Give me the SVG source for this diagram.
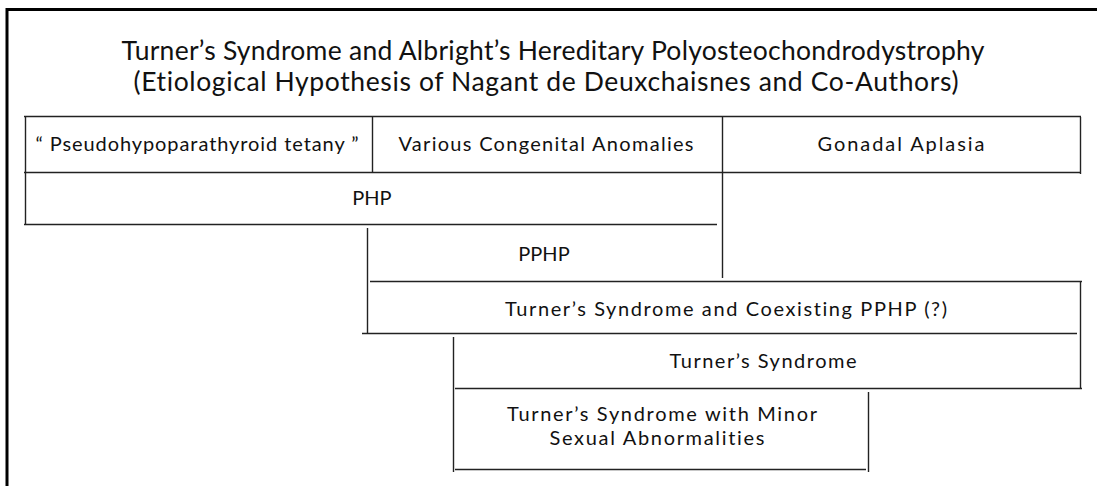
<svg xmlns="http://www.w3.org/2000/svg" width="1097" height="486" viewBox="0 0 1097 486">
  <style>
    text { font-family: Lato, "Open Sans", "Liberation Sans", sans-serif; fill: #111; font-variant-ligatures: none; }
    .title { font-size: 26.5px; }
    .cell { font-size: 20px; }
    .ln { stroke: #222; stroke-width: 1.4; fill: none; }
    .frame { stroke: #000; stroke-width: 3; fill: none; }
  </style>
  <rect x="0" y="0" width="1097" height="486" fill="#fff"/>

  <g id="frame">
    <path class="frame" d="M7,486 V9.5 H1097"/>
  </g>

  <g id="title">
    <text class="title" x="553" y="60" text-anchor="middle" textLength="863" lengthAdjust="spacing">Turner’s Syndrome and Albright’s Hereditary Polyosteochondrodystrophy</text>
    <text class="title" x="546" y="91" text-anchor="middle" textLength="825" lengthAdjust="spacing">(Etiological Hypothesis of Nagant de Deuxchaisnes and Co-Authors)</text>
  </g>

  <g id="connectors">
    <path class="ln" d="M24,116.5 H1081"/>
    <path class="ln" d="M24,172.5 H1081"/>
    <path class="ln" d="M25.5,116 V225"/>
    <path class="ln" d="M372.5,117 V172"/>
    <path class="ln" d="M722.5,117 V278"/>
    <path class="ln" d="M1080.5,117 V174"/>
    <path class="ln" d="M24,224.5 H717"/>
    <path class="ln" d="M367.5,228 V334"/>
    <path class="ln" d="M370,281.5 H1082"/>
    <path class="ln" d="M362,333.5 H1077"/>
    <path class="ln" d="M1080.5,282 V389"/>
    <path class="ln" d="M453.5,337 V472"/>
    <path class="ln" d="M455,388.5 H1082"/>
    <path class="ln" d="M455,469.5 H866"/>
    <path class="ln" d="M868.5,392 V472"/>
  </g>

  <g id="node-pseudo">
    <text class="cell" x="197" y="151" text-anchor="middle" textLength="323" lengthAdjust="spacing">“ Pseudohypoparathyroid tetany ”</text>
  </g>
  <g id="node-various">
    <text class="cell" x="546" y="151" text-anchor="middle" textLength="295" lengthAdjust="spacing">Various Congenital Anomalies</text>
  </g>
  <g id="node-gonadal">
    <text class="cell" x="901" y="151" text-anchor="middle" textLength="167" lengthAdjust="spacing">Gonadal Aplasia</text>
  </g>
  <g id="node-php">
    <text class="cell" x="372" y="205" text-anchor="middle">PHP</text>
  </g>
  <g id="node-pphp">
    <text class="cell" x="544" y="261" text-anchor="middle">PPHP</text>
  </g>
  <g id="node-turner-pphp">
    <text class="cell" x="726" y="316" text-anchor="middle" textLength="442" lengthAdjust="spacing">Turner’s Syndrome and Coexisting PPHP (?)</text>
  </g>
  <g id="node-turner">
    <text class="cell" x="763" y="368" text-anchor="middle" textLength="187" lengthAdjust="spacing">Turner’s Syndrome</text>
  </g>
  <g id="node-turner-minor">
    <text class="cell" x="662" y="421" text-anchor="middle" textLength="310" lengthAdjust="spacing">Turner’s Syndrome with Minor</text>
    <text class="cell" x="657" y="445" text-anchor="middle" textLength="215" lengthAdjust="spacing">Sexual Abnormalities</text>
  </g>
</svg>
